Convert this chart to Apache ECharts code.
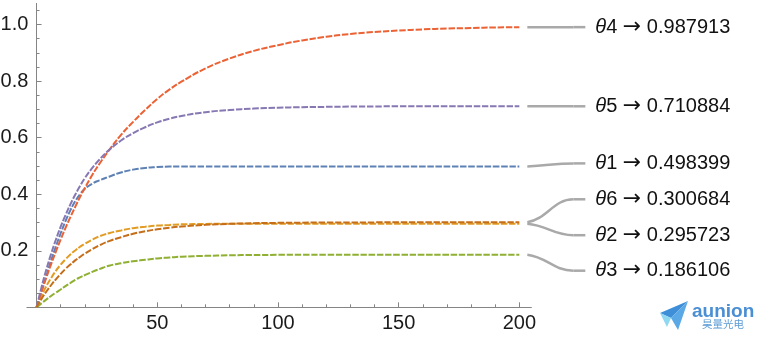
<!DOCTYPE html>
<html>
<head>
<meta charset="utf-8">
<script src="https://cdn.jsdelivr.net/npm/echarts@6/dist/echarts.min.js"></script>
<style>
html,body{margin:0;padding:0;background:#fff}
#chart{width:768px;height:340px}
</style>
</head>
<body>
<div id="chart"></div>
<script>
// x positions
var xs = [0,2,4,6,8,10,12,14,16,18, 20,23,26,30,35,40,45,50,55,60, 70,80,90,100,110,120,130,140,150,160, 170,180,190,200];
// θ1 .. θ6 curves
var theta1 = [0,.055,.11,.165,.215,.262,.305,.343,.375,.400, .419,.437,.449,.462,.477,.487,.493,.496,.498,.4985, .4985,.4984,.4984,.4984,.4984,.4984,.4984,.4984,.4984,.4984, .4984,.4984,.4984,.4984];
var theta2 = [0,.039,.074,.103,.129,.151,.170,.187,.201,.214, .225,.239,.251,.262,.272,.280,.285,.289,.2915,.2935, .2950,.2955,.2957,.2957,.2957,.2957,.2957,.2957,.2957,.2957, .2957,.2957,.2957,.2957];
var theta3 = [0,.014,.027,.040,.052,.063,.075,.086,.097,.106, .114,.125,.135,.147,.156,.163,.168,.173,.176,.179, .182,.184,.185,.1855,.186,.186,.1861,.1861,.1861,.1861, .1861,.1861,.1861,.1861];
var theta4 = [0,.054,.104,.152,.197,.240,.281,.319,.355,.390, .422,.467,.507,.555,.610,.656,.698,.737,.770,.798, .845,.880,.907,.927,.944,.957,.967,.974,.979,.983, .986,.988,.990,.991];
var theta5 = [0,.069,.132,.188,.239,.285,.326,.364,.398,.429, .457,.492,.522,.556,.590,.616,.637,.654,.667,.677, .690,.698,.703,.706,.708,.709,.710,.7105,.711,.711, .711,.711,.711,.711];
var theta6 = [0,.029,.055,.078,.099,.118,.136,.151,.166,.178, .190,.205,.219,.234,.248,.260,.269,.276,.2815,.2857, .2917,.2952,.2974,.2987,.2995,.2999,.3002,.3004,.3005,.3006, .3006,.3007,.3007,.3007];
var curves = [theta1, theta2, theta3, theta4, theta5, theta6];
var names = ['1','2','3','4','5','6'];
var limits = ['0.498399','0.295723','0.186106','0.987913','0.710884','0.300684'];

var xMajor = [50,100,150,200];
var xMinor = [10,20,30,40,60,70,80,90,110,120,130,140,160,170,180,190];
var yMajor = [0.2,0.4,0.6,0.8,1.0];
var yMinor = [0.05,0.1,0.15,0.25,0.3,0.35,0.45,0.5,0.55,0.65,0.7,0.75,0.85,0.9,0.95,1.05];

var colors = ['#5E81B5','#E19C24','#8FB032','#EB6235','#8778B3','#C56E1A'];
// how far each callout label sits from its curve end (px)
var labelShift = [-3, 11.5, 16, 0, 0, -23];

var axisColor = '#858585';
var font = 'Liberation Sans';

var chart = echarts.init(document.getElementById('chart'));
var option = {
    animation: false,
    grid: {left: 26.9, right: 236.6, top: 3.4, bottom: 32.7, outerBoundsMode: 'none'},
    xAxis: [
        {
            type: 'value', min: -4, max: 205,
            axisLine: {onZero: true, lineStyle: {color: axisColor, width: 1}},
            axisTick: {inside: true, length: 5, customValues: xMajor, lineStyle: {color: axisColor}},
            axisLabel: {customValues: xMajor, margin: 6, fontSize: 20, fontFamily: font, color: '#1a1a1a'},
            splitLine: {show: false}
        },
        {
            type: 'value', min: -4, max: 205, position: 'bottom',
            axisLine: {show: false},
            axisTick: {inside: true, length: 3, customValues: xMinor, lineStyle: {color: axisColor}},
            axisLabel: {show: false},
            splitLine: {show: false}
        }
    ],
    yAxis: [
        {
            type: 'value', min: 0, max: 1.075,
            axisLine: {onZero: true, lineStyle: {color: axisColor, width: 1}},
            axisTick: {inside: true, length: 5, customValues: yMajor, lineStyle: {color: axisColor}},
            axisLabel: {
                customValues: yMajor, margin: -1.5, fontSize: 20, fontFamily: font, color: '#1a1a1a',
                formatter: function (v) { return v.toFixed(1); }
            },
            splitLine: {show: false}
        },
        {
            type: 'value', min: 0, max: 1.075, position: 'left',
            axisLine: {show: false},
            axisTick: {inside: true, length: 3, customValues: yMinor, lineStyle: {color: axisColor}},
            axisLabel: {show: false},
            splitLine: {show: false}
        }
    ],
    series: curves.map(function (c, i) {
        return {
            type: 'line',
            xAxisIndex: 0,
            yAxisIndex: 0,
            data: xs.map(function (x, j) { return [x, c[j]]; }),
            showSymbol: false,
            smooth: 0.5,
            silent: true,
            lineStyle: {color: colors[i], width: 2, type: [6.5, 1.7]}
        };
    })
};
chart.setOption(option);

// callout leaders + labels on the right
var gfx = [];
curves.forEach(function (c, i) {
    var end = chart.convertToPixel({xAxisIndex: 0, yAxisIndex: 0}, [xs[xs.length - 1], c[c.length - 1]]);
    var x0 = end[0] + 8, y0 = end[1];
    var y1 = y0 + labelShift[i];
    var x1 = x0 + 46, x2 = x0 + 58;
    gfx.push({
        type: 'bezierCurve', silent: true,
        shape: {x1: x0, y1: y0, cpx1: x0 + 20, cpy1: y0 + (y1 - y0) * 0.15, cpx2: x0 + 26, cpy2: y1, x2: x1, y2: y1},
        style: {stroke: '#a9a9a9', lineWidth: 2.5, fill: null}
    });
    gfx.push({
        type: 'line', silent: true,
        shape: {x1: x1, y1: y1, x2: x2, y2: y1},
        style: {stroke: '#a9a9a9', lineWidth: 2.5}
    });
    gfx.push({
        type: 'text', silent: true, x: x2 + 10, y: y1,
        style: {
            text: '{i|θ}{n|' + names[i] + ' }{a|→}{n| ' + limits[i] + '}',
            verticalAlign: 'middle',
            rich: {
                i: {fontStyle: 'italic', fontSize: 20, fontFamily: font, fill: '#111'},
                n: {fontSize: 20, fontFamily: font, fill: '#111'},
                a: {fontSize: 22, fontFamily: 'DejaVu Sans', fill: '#111'}
            }
        }
    });
});

// watermark
gfx.push({type: 'polygon', silent: true, shape: {points: [[688, 301], [660, 313], [671, 318]]}, style: {fill: '#3f8fd8'}});
gfx.push({type: 'polygon', silent: true, shape: {points: [[688, 301], [671, 318], [678, 330]]}, style: {fill: '#5aa9e6'}});
gfx.push({type: 'polygon', silent: true, shape: {points: [[660, 313], [671, 318], [667, 327]]}, style: {fill: '#8fd8f2'}});
gfx.push({type: 'text', silent: true, x: 692, y: 312, style: {text: 'aunion', fontSize: 19, fontWeight: 'bold', fontFamily: font, fill: '#4a8fd4', verticalAlign: 'middle'}});
gfx.push({type: 'text', silent: true, x: 702, y: 324, style: {text: '昊量光电', fontSize: 10.5, fontFamily: 'Noto Sans CJK SC', fill: '#5b9bd5', verticalAlign: 'middle'}});

chart.setOption({graphic: gfx});
</script>
</body>
</html>
